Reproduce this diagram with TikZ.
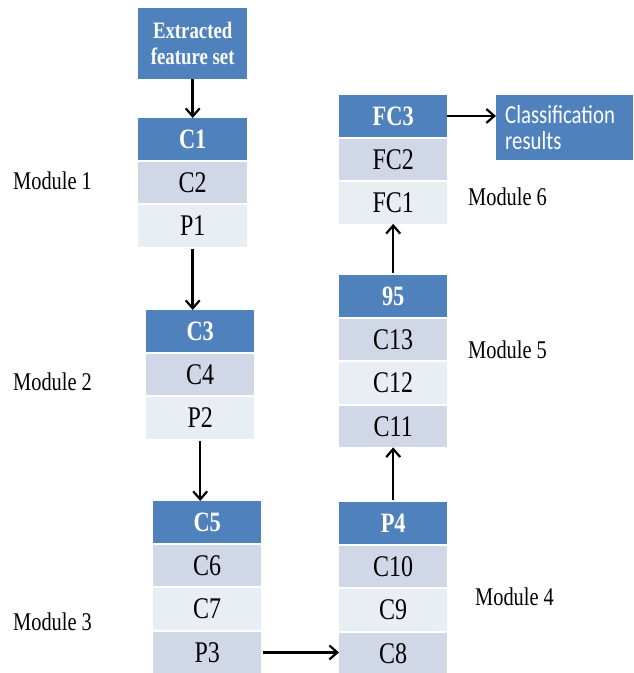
\documentclass[tikz,border=0pt]{standalone}
\usepackage{fontspec}
\setmainfont{Liberation Serif}[FakeStretch=0.8]
\newfontfamily\calfont{Carlito}[FakeStretch=0.8]
\usetikzlibrary{arrows.meta}
\definecolor{dk}{HTML}{4F81BD}
\definecolor{md}{HTML}{D0D8E8}
\definecolor{lt}{HTML}{E9EDF4}
\tikzset{
 cell/.style={minimum width=108pt, minimum height=41.5pt, inner sep=0pt, anchor=north west},
 hd/.style={cell, fill=dk, text=white, font=\fontsize{28}{30}\selectfont\bfseries},
 rm/.style={cell, fill=md, font=\fontsize{30}{32}\selectfont},
 rl/.style={cell, fill=lt, font=\fontsize{30}{32}\selectfont},
 lab/.style={anchor=west, inner sep=0pt, font=\fontsize{25.5}{28}\selectfont},
 arr/.style={-{Straight Barb[length=8pt,width=14pt,line width=2.2pt]}, line width=2.5pt}
}
\begin{document}
\begin{tikzpicture}[x=1pt,y=-1pt]
\useasboundingbox (0,0) rectangle (633,673);
% column 1
\node[hd, minimum width=109pt, minimum height=71pt, align=center, font=\fontsize{23.5}{26}\selectfont\bfseries] (ext) at (138,8) {Extracted\\feature set};
\node[hd, minimum width=109pt] (C1) at (138,118) {C1};
\node[rm, minimum width=109pt] (C2) at (138,161.5) {C2};
\node[rl, minimum width=109pt] (P1) at (138,205) {P1};
% column 2
\node[hd] (C3) at (146,310) {C3};
\node[rm] (C4) at (146,353.5) {C4};
\node[rl] (P2) at (146,397) {P2};
% column 3
\node[hd] (C5) at (153,501) {C5};
\node[rm] (C6) at (153,544.5) {C6};
\node[rl] (C7) at (153,588) {C7};
\node[rm] (P3) at (153,631.5) {P3};
% right column, module 4
\node[hd] (P4) at (339,502) {P4};
\node[rm] (C10) at (339,545.5) {C10};
\node[rl] (C9) at (339,589) {C9};
\node[rm] (C8) at (339,632.5) {C8};
% module 5
\node[hd] (n95) at (339,275) {95};
\node[rm] (C13) at (339,318.5) {C13};
\node[rl] (C12) at (339,362) {C12};
\node[rm] (C11) at (339,405.5) {C11};
% module 6
\node[hd] (FC3) at (339,95) {FC3};
\node[rm] (FC2) at (339,138.5) {FC2};
\node[rl] (FC1) at (339,182) {FC1};
% classification
\node[anchor=north west, fill=dk, text=white, minimum width=137pt, minimum height=65pt,
      inner xsep=9pt, inner ysep=0pt, text width=119pt, align=left,
      font=\calfont\fontsize{26}{26}\selectfont] (cls) at (496,95) {Classification\\results};
% labels
\node[lab] (m1) at (13,181) {Module 1};
\node[lab] (m2) at (13,382) {Module 2};
\node[lab] (m3) at (13,622) {Module 3};
\node[lab] (m4) at (475,597) {Module 4};
\node[lab] (m5) at (468,350) {Module 5};
\node[lab] (m6) at (468,197) {Module 6};
% arrows
\draw[arr] (ext.south) -- (C1.north);
\draw[arr, shorten <=2pt] (P1.south) -- (P1.south |- C3.north);
\draw[arr, shorten <=2pt] (P2.south) -- (P2.south |- C5.north);
\draw[arr, shorten <=2pt] (P3.east) -- (P3.east -| C8.west);
\draw[arr, shorten <=2pt] (P4.north) -- (C11.south);
\draw[arr, shorten <=2pt] (n95.north) -- (FC1.south);
\draw[arr] (FC3.east) -- (FC3.east -| cls.west);
\end{tikzpicture}
\end{document}
